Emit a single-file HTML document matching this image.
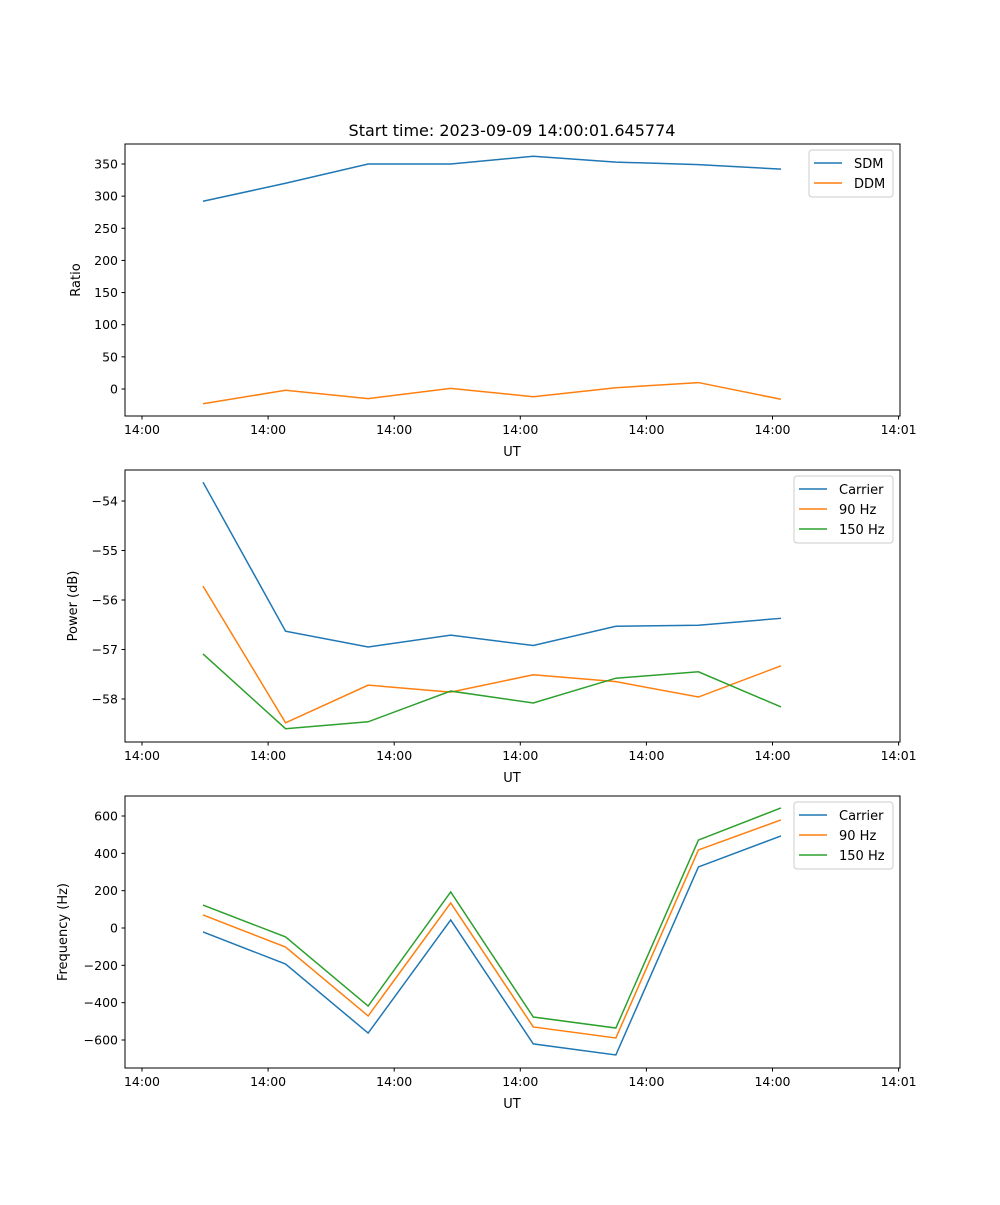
<!DOCTYPE html>
<html><head><meta charset="utf-8"><style>
body{margin:0;background:#fff}
svg text{font-family:"DejaVu Sans","Liberation Sans",sans-serif;fill:#000}
</style></head><body>
<svg id="fig" width="1000" height="1200" xmlns="http://www.w3.org/2000/svg">
<rect width="1000" height="1200" fill="#fff"/>
<text x="512" y="136" font-size="16" text-anchor="middle">Start time: 2023-09-09 14:00:01.645774</text>
</svg>
<script>
const xTickLabels = ["14:00","14:00","14:00","14:00","14:00","14:00","14:01"];
const times = [0,1,2,3,4,5,6,7];
const sdm = [292,320,350,350,362,353,349,342];
const ddm = [-23,-2,-15,1,-12,2,10,-16];
const powCarrier = [-53.62,-56.63,-56.95,-56.71,-56.92,-56.53,-56.51,-56.37];
const pow90 = [-55.72,-58.48,-57.72,-57.86,-57.51,-57.65,-57.96,-57.33];
const pow150 = [-57.09,-58.6,-58.46,-57.84,-58.08,-57.58,-57.45,-58.16];
const freqCarrier = [-21,-193,-563,43,-621,-680,327,493];
const freq90 = [70,-102,-471,134,-530,-589,418,579];
const freq150 = [123,-48,-418,193,-477,-536,471,643];
const ratioTicks = [0,50,100,150,200,250,300,350];
const powTicks = [-58,-57,-56,-55,-54];
const freqTicks = [-600,-400,-200,0,200,400,600];

const NS="http://www.w3.org/2000/svg";
const svg=document.getElementById('fig');
function el(tag,attrs,parent){const e=document.createElementNS(NS,tag);for(const k in attrs)e.setAttribute(k,attrs[k]);(parent||svg).appendChild(e);return e;}
const L=125,R=900;
function xData(t){return 203+t*82.57;}
function xTick(k){return 142+k*126.1;}
const C=['#1f77b4','#ff7f0e','#2ca02c'];

function panel(name,top,bot,yv0,yp0,yv1,yp1,ticks,ylab,series,labels,legendW){
  const y=v=>yp0+(v-yv0)*(yp1-yp0)/(yv1-yv0);
  const g=el('g',{});
  
  
  series.forEach((s,i)=>{
    const p=el('polyline',{points:s.map((v,j)=>xData(times[j])+','+y(v)).join(' '),fill:'none',stroke:C[i],'stroke-width':1.5},g);
    
    
  });
  el('rect',{x:L,y:top,width:R-L,height:bot-top,fill:'none',stroke:'#000','stroke-width':1},g);
  ticks.forEach(t=>{
    const yy=y(t);
    el('line',{x1:L-3.5,x2:L,y1:yy,y2:yy,stroke:'#000'},g);
    const tx=el('text',{x:L-7,y:yy+4.5,'font-size':12.5,'text-anchor':'end'},g);
    tx.textContent=(t<0?'\u2212'+(-t):t);
    
    
  });
  xTickLabels.forEach((lab,k)=>{
    const xx=xTick(k);
    el('line',{x1:xx,x2:xx,y1:bot,y2:bot+3.5,stroke:'#000'},g);
    const tx=el('text',{x:xx,y:bot+18,'font-size':12.5,'text-anchor':'middle'},g);
    tx.textContent=lab;
    
    
  });
  const xl=el('text',{x:512,y:bot+40,'font-size':13,'text-anchor':'middle'},g);
  xl.textContent='UT';
  
  
  const ym=(top+bot)/2;
  const ylx=ylab==='Ratio'?80:ylab==='Power (dB)'?77:67;
  const yl=el('text',{x:ylx,y:ym,'font-size':13,'text-anchor':'middle',transform:'rotate(-90 '+ylx+' '+ym+')'},g);
  yl.textContent=ylab;
  
  
  const lx=R-7-legendW, ly=top+6;
  const lg=el('g',{},g);
  
  
  el('rect',{x:lx,y:ly,width:legendW,height:7+labels.length*20,rx:3,fill:'#fff',stroke:'#ccc'},lg);
  labels.forEach((lab,i)=>{
    const yy=ly+13+i*20;
    el('line',{x1:lx+5,x2:lx+33,y1:yy,y2:yy,stroke:C[i],'stroke-width':1.5},lg);
    const t=el('text',{x:lx+45,y:yy+5,'font-size':13},lg);
    t.textContent=lab;
    
    
  });
}
panel('ratio',144,416,0,389,350,164,ratioTicks,'Ratio',[sdm,ddm],['SDM','DDM'],84);
panel('power',470,742,-54,501,-58,699,powTicks,'Power (dB)',[powCarrier,pow90,pow150],['Carrier','90 Hz','150 Hz'],99);
panel('frequency',796,1068,600,816,-600,1040,freqTicks,'Frequency (Hz)',[freqCarrier,freq90,freq150],['Carrier','90 Hz','150 Hz'],99);
</script>
</body></html>
